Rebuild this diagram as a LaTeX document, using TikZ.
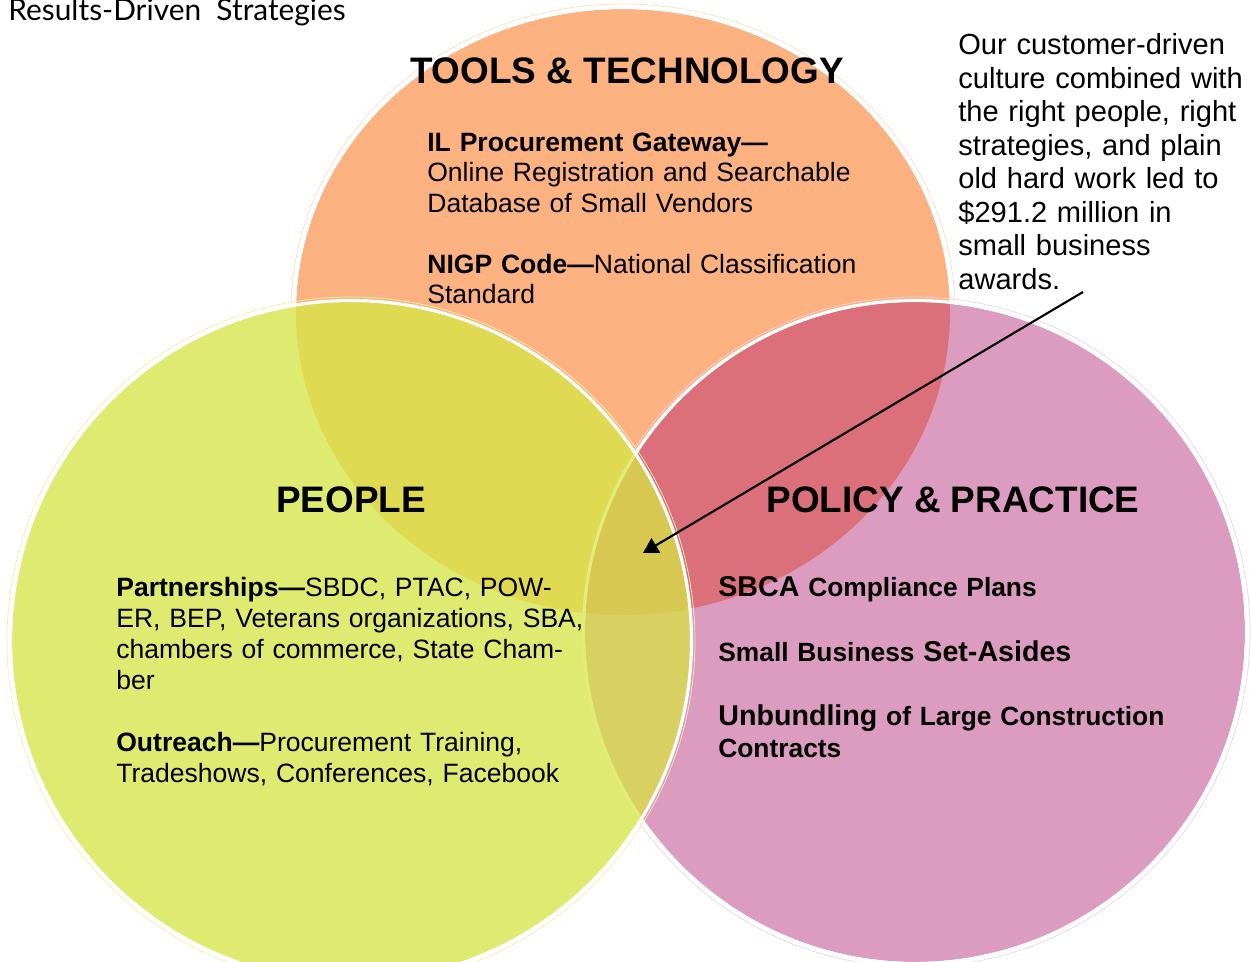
\documentclass[tikz,border=0pt]{standalone}
\usepackage{fontspec}
\setmainfont{Liberation Sans}
\newfontfamily\titlefont{Lato}
\usetikzlibrary{arrows.meta, positioning}

\definecolor{toolsorange}{RGB}{252,178,128}
\definecolor{policypink}{RGB}{220,156,192}
\definecolor{peoplegreen}{RGB}{223,234,113}
\definecolor{toolspolicy}{RGB}{219,112,122}
\definecolor{toolspeople}{RGB}{224,217,82}
\definecolor{peoplepolicy}{RGB}{216,209,98}
\definecolor{allthree}{RGB}{214,200,80}
\definecolor{edgegreen}{RGB}{226,236,120}

\newcommand{\bigbold}[1]{{\fontsize{16.3}{18.3}\selectfont #1}}

\begin{document}
\begin{tikzpicture}[x=0.02cm, y=-0.02cm,
    heading/.style={font=\fontsize{21}{25}\selectfont\bfseries, anchor=base, inner sep=0pt},
    bodytext/.style={anchor=base west, align=left, inner sep=0pt},
    ring/.style={draw=white, line width=1.8pt},
    halo/.style={line width=0.4pt},
    pointer/.style={line width=1.2pt, -{Triangle[length=8.5pt, width=9.5pt]}}
  ]
    \useasboundingbox (0,0) rectangle (1251,962);

    % circle centres
    \coordinate (tools_c) at (623,312);
    \coordinate (people_c) at (351,641);
    \coordinate (policy_c) at (915,632);

    % Tools & Technology circle
    \fill[toolsorange] (tools_c) ellipse [x radius=327, y radius=303];
    \draw[halo, draw=toolsorange!45] (tools_c) ellipse [x radius=332, y radius=308];
    \draw[ring] (tools_c) ellipse [x radius=328.5, y radius=304.5];

    % Policy & Practice circle
    \fill[policypink] (policy_c) circle [radius=330];
    \begin{scope}
      \clip (tools_c) ellipse [x radius=327, y radius=303];
      \fill[toolspolicy] (policy_c) circle [radius=330];
    \end{scope}
    \draw[halo, draw=policypink!45] (policy_c) circle [radius=335];
    \draw[ring] (policy_c) circle [radius=331.5];

    % People circle
    \fill[peoplegreen] (people_c) circle [radius=339];
    \begin{scope}
      \clip (people_c) circle [radius=339];
      \fill[toolspeople] (tools_c) ellipse [x radius=327, y radius=303];
      \fill[peoplepolicy] (policy_c) circle [radius=330];
      \begin{scope}
        \clip (tools_c) ellipse [x radius=327, y radius=303];
        \fill[allthree] (policy_c) circle [radius=330];
      \end{scope}
      \draw[edgegreen, line width=1.8pt] (policy_c) circle [radius=331.5];
    \end{scope}
    \draw[halo, draw=peoplegreen!60] (people_c) circle [radius=344];
    \draw[ring] (people_c) circle [radius=340.5];

    % Title
    \node (title) [anchor=base west, inner sep=0pt, font=\titlefont\fontsize{17}{20}\selectfont] at (8,21) {Results-Driven\ \ Strategies};

    % Headings
    \node (tools_head) [heading] at (627,84) {TOOLS \& TECHNOLOGY};
    \node (people_head) [heading] at (351,513) {PEOPLE};
    \node (policy_head) [heading] at (953,513) {POLICY \& PRACTICE};

    % Circle texts
    \node (tools_text) [bodytext, text width=9cm, font=\fontsize{15.1}{17.3}\selectfont] at (427,151.5) {%
      \textbf{IL Procurement Gateway—}\\
      Online Registration and Searchable\\
      Database of Small Vendors\\[17.3pt]
      \textbf{NIGP Code—}National Classification\\
      Standard};
    \node (people_text) [bodytext, text width=9.8cm, font=\fontsize{15.1}{17.6}\selectfont] at (116,597) {%
      \textbf{Partnerships—}SBDC, PTAC, POW-\\
      ER, BEP, Veterans organizations, SBA,\\
      chambers of commerce, State Cham-\\
      ber\\[17.6pt]
      \textbf{Outreach—}Procurement Training,\\
      Tradeshows, Conferences, Facebook};
    \node (policy_text) [bodytext, text width=9.6cm, font=\fontsize{15}{18.3}\selectfont\bfseries] at (718,597) {%
      \bigbold{SBCA} Compliance Plans\\[18.3pt]
      Small Business \bigbold{Set-Asides}\\[18.3pt]
      \bigbold{Unbundling} of Large Construction\\
      Contracts};

    % Callout
    \node (callout) [bodytext, text width=5.8cm, font=\fontsize{16.55}{19.05}\selectfont] at (958,55) {%
      Our customer-driven\\
      culture combined with\\
      the right people, right\\
      strategies, and plain\\
      old hard work led to\\
      \$291.2 million in\\
      small business\\
      awards.};
    \coordinate (callout_tail) at (1083,292);
    \coordinate (overlap_c) at (643,553);
    \draw[pointer] (callout_tail) -- (overlap_c);
\end{tikzpicture}
\end{document}
